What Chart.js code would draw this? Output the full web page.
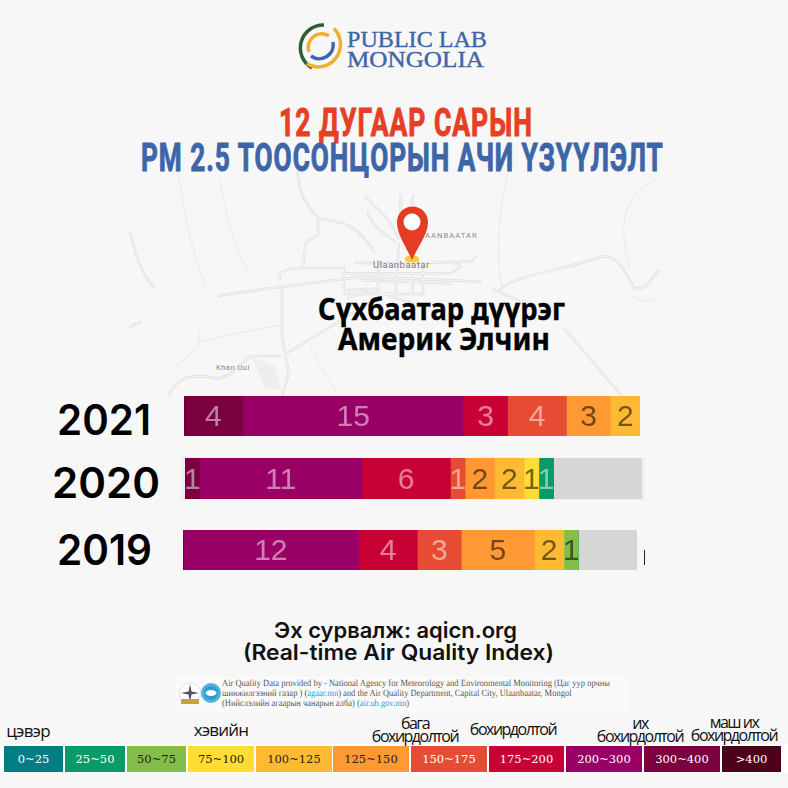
<!DOCTYPE html>
<html>
<head>
<meta charset="utf-8">
<script src="https://cdn.jsdelivr.net/npm/chart.js@4"></script>
<style>
  html, body { margin: 0; padding: 0; background: #f7f7f7; overflow: hidden; }
  #page { position: relative; width: 788px; height: 788px; overflow: hidden; background: #f7f7f7; }
  #page > svg { position: absolute; left: 0; top: 0; }
  canvas { position: absolute; }
  #frame2020 { position: absolute; left: 181px; top: 457px; width: 464px; height: 43px; background: #f0f0f0; }
  #credit { position: absolute; left: 175px; top: 677px; width: 452px; height: 36px; background: #fafafa; }
  #credit p { position: absolute; left: 47px; top: 2px; margin: 0; font: 9.5px/10px "Liberation Serif", serif; color: #555; white-space: nowrap; text-rendering: geometricPrecision; transform-origin: left top; }
  #credit a { color: #2f9bd0; }
  #strip { position: absolute; left: 0; top: 744px; width: 788px; height: 29px; background: #fff; }
  .cell { position: absolute; top: 2px; height: 26px; text-align: center; font: 11.5px/26px "DejaVu Serif", serif; }
  .word { position: absolute; width: 120px; font: 16px/13px "Open Sans", sans-serif; color: #111; text-align: center; letter-spacing: -1.5px; white-space: nowrap; }
  .word.wide { font-size: 17px; letter-spacing: -0.8px; }
  #tick { position: absolute; left: 644px; top: 550px; width: 1px; height: 15px; background: #222; }
</style>
</head>
<body>
<div id="page">
  <svg width="788" height="788" viewBox="0 0 788 788">
    <defs>
      <g id="roads">
        <path d="M28 178 C40 200 35 260 100 345"/>
        <path d="M28 460 Q40 445 62 442"/>
        <path d="M515 0 C520 60 530 90 575 140 C620 150 680 140 740 240"/>
        <path d="M575 140 L575 190 L540 210 L530 290"/>
        <path d="M285 365 L460 340 L700 310 L960 320 L1050 325"/>
        <path d="M470 340 L470 480 L490 590 L470 660"/>
        <path d="M465 320 Q450 290 520 285 L650 285"/>
        <path d="M650 280 L650 360 L880 360 L880 270"/>
        <path d="M650 300 L960 300 L990 280 L960 265"/>
        <path d="M700 320 L960 330"/>
        <path d="M750 260 L750 360 L800 360"/>
        <path d="M810 210 L800 360"/>
        <path d="M850 300 L850 360"/>
        <path d="M680 270 L880 270"/>
        <path d="M660 350 L720 345 L860 390"/>
        <path d="M660 375 L750 340"/>
        <path d="M880 270 L1020 265 L1035 250"/>
        <path d="M1080 345 L1160 380 L1195 385"/>
        <path d="M1100 350 C1150 300 1300 290 1400 250 C1450 250 1470 300 1490 340 C1530 360 1540 310 1568 290"/>
        <path d="M480 535 L750 370"/>
        <path d="M380 540 L470 540"/>
        <path d="M140 655 C170 600 200 590 280 605 C330 600 350 560 380 540"/>
        <path d="M1290 460 L1460 660"/>
        <path d="M710 75 C740 110 780 130 810 200"/>
        <path d="M720 120 C720 150 770 190 800 210"/>
        <path d="M815 70 L815 170"/>
        <path d="M855 70 Q845 85 850 100"/>
      </g>
    </defs>
    <!-- background map -->
    <g transform="translate(120 170) scale(0.3444)" fill="none" stroke-linejoin="round">
      <path d="M380 540 L450 570 L470 640 L420 630 Z" fill="#eeeeee"/>
      <g stroke-width="2.5" stroke="#e6e6e6">
        <path d="M165 0 C190 100 180 150 250 340"/>
        <path d="M290 30 C300 100 330 230 380 305"/>
        <path d="M1130 0 C1100 100 1090 250 1110 350"/>
        <path d="M1568 20 C1470 70 1440 130 1480 290"/>
        <path d="M230 470 C240 520 200 540 120 600"/>
        <path d="M230 500 C300 480 360 470 470 450"/>
        <path d="M550 500 C570 560 600 600 640 660"/>
        <path d="M1480 360 C1510 385 1540 385 1568 370"/>
      </g>
      <use href="#roads" stroke="#dcdcdc" stroke-width="7"/>
      <use href="#roads" stroke="#f7f7f7" stroke-width="3"/>
    </g>
    <text x="425" y="238" font-family="Roboto" font-size="7.5" letter-spacing="1.1" fill="#8a8a8a">AANBAATAR</text>
    <text x="373" y="268" font-family="Roboto" font-size="9.5" letter-spacing="0.5" fill="#777">Ulaanbaatar</text>
    <text x="216" y="370" font-family="Roboto" font-size="7.5" letter-spacing="0.5" fill="#888">Khan Uul</text>
    <!-- pin -->
    <ellipse cx="412" cy="259" rx="7.5" ry="3.5" fill="#fbc93d"/>
    <path d="M412 260 C404 243 397 234 397 222 A15.5 15.5 0 0 1 428 222 C428 234 420 243 412 260 Z" fill="#e43d24"/>
    <circle cx="412" cy="222" r="8.5" fill="#fff"/>
    <!-- logo -->
    <g fill="none" stroke-width="3.5">
      <path d="M312 68 A23 23 0 0 1 324 25" stroke="#2f5d3a"/>
      <path d="M326 25 A22.5 22.5 0 0 1 314 68" stroke="#f2ae2c" transform="rotate(22 321 47)"/>
      <path d="M309 52 A13.5 13.5 0 0 1 329 36" stroke="#f2ae2c"/>
      <path d="M333 42 A14 14 0 0 1 311 56" stroke="#3c66ad"/>
    </g>
    <g font-family="Liberation Serif" font-size="24" fill="#3d66a8" stroke="#3d66a8" stroke-width="0.4">
      <text class="fit" data-w="140" x="347" y="47">PUBLIC LAB</text>
      <text class="fit" data-w="137" x="347" y="67">MONGOLIA</text>
    </g>
    <!-- titles -->
    <g font-family="Roboto" font-weight="700" font-size="39.5" letter-spacing="1.5" stroke-width="1">
      <text class="fit" data-w="254" x="279" y="136" fill="#e63f26" stroke="#e63f26">12 ДУГААР САРЫН</text>
      <text class="fit" data-w="523" x="141" y="171" fill="#3d66a8" stroke="#3d66a8">РМ 2.5 ТООСОНЦОРЫН АЧИ ҮЗҮҮЛЭЛТ</text>
    </g>
    <g font-family="Noto Sans" font-weight="700" font-size="30" fill="#000" stroke="#000" stroke-width="0.4">
      <text class="fit" data-w="247" x="318" y="320">Сүхбаатар дүүрэг</text>
      <text class="fit" data-w="212" x="338" y="350">Америк Элчин</text>
    </g>
    <!-- years -->
    <g font-family="Inter" font-weight="600" font-size="42" fill="#000">
      <text class="fit" data-w="94" x="57" y="435">2021</text>
      <text class="fit" data-w="108" x="52" y="498">2020</text>
      <text class="fit" data-w="95" x="57" y="565">2019</text>
    </g>
    <!-- source -->
    <g font-family="Inter" font-weight="600" font-size="21.5" fill="#111">
      <text class="fit" data-w="243" x="274" y="638">Эх сурвалж: aqicn.org</text>
      <text class="fit" data-w="311" x="243" y="660">(Real-time Air Quality Index)</text>
    </g>
  </svg>

  <div id="frame2020"></div>
  <div id="tick"></div>

  <div id="credit">
    <svg width="46" height="24" viewBox="0 0 46 24" style="position:absolute;left:3px;top:5px">
      <ellipse cx="12" cy="11" rx="11" ry="10" fill="#fff" stroke="#ccd" stroke-width="0.6"/>
      <path d="M12 2 L13.5 9.5 L21 11 L13.5 12.5 L12 20 L10.5 12.5 L3 11 L10.5 9.5 Z" fill="#555"/>
      <rect x="3" y="17" width="18" height="5" fill="#c9a13a"/>
      <circle cx="33" cy="11" r="10" fill="#4fb4dc"/>
      <circle cx="33" cy="11" r="7" fill="#2f9bd0"/>
      <ellipse cx="33" cy="11" rx="5.5" ry="3" fill="#fff"/>
    </svg>
    <p id="creditText">Air Quality Data provided by - National Agency for Meteorology and Environmental Monitoring (Цаг уур орчны<br>шинжилгээний газар ) (<a>agaar.mn</a>) and the Air Quality Department, Capital City, Ulaanbaatar, Mongol<br>(Нийслэлийн агаарын чанарын алба) (<a>air.ub.gov.mn</a>)</p>
  </div>

  <div id="strip"></div>
</div>

<script>
// AQI bands, cleanest first
const aqiBands = ['0~25', '25~50', '50~75', '75~100', '100~125', '125~150', '150~175', '175~200', '200~300', '300~400', '>400'];
const years = ['2021', '2020', '2019'];

// days of December per band
const days2021 = [0, 0, 0, 0, 2, 3, 4, 3, 15, 4, 0];
const days2020 = [0, 1, 0, 1, 2, 2, 1, 6, 11, 1, 0];
const days2019 = [0, 0, 1, 0, 2, 5, 3, 4, 12, 0, 0];
const noData = [0, 6, 4];
const daysInMonth = 31;

const bandColors = ['#007e84', '#099b67', '#85bd4b', '#ffdd33', '#ffba33', '#ff9933', '#e64c33', '#c80033', '#990066', '#7a0040', '#4d0019'];
const bandOnDark = [true, true, false, false, false, false, true, true, true, true, true];
const noDataColor = '#d6d6d6';

const page = document.getElementById('page');
const strip = document.getElementById('strip');

// no condensed fonts here, so squeeze the heading texts to their widths
document.querySelectorAll('text.fit').forEach(t => {
  const x = Number(t.getAttribute('x'));
  const k = Number(t.dataset.w) / t.getComputedTextLength();
  t.setAttribute('transform', `translate(${x} 0) scale(${k} 1) translate(${-x} 0)`);
});

const creditText = document.getElementById('creditText');
creditText.style.transform = `scaleX(${388 / creditText.getBoundingClientRect().width})`;

// label each segment with its day count, like the original
const segmentLabels = {
  id: 'segmentLabels',
  afterDatasetsDraw(chart) {
    const { ctx } = chart;
    ctx.save();
    ctx.font = '30px "Liberation Sans"';
    ctx.textAlign = 'center';
    ctx.textBaseline = 'middle';
    chart.data.datasets.forEach((ds, i) => {
      const value = ds.data[0];
      if (!value || ds.label === 'no data') return;
      const bar = chart.getDatasetMeta(i).data[0];
      ctx.fillStyle = ds.onDark ? 'rgba(255,255,255,0.5)' : 'rgba(0,0,0,0.55)';
      ctx.fillText(value, bar.x - (bar.x - bar.base) / 2, bar.y + 2);
    });
    ctx.restore();
  }
};

function drawRow(year, days, missing, box) {
  const canvas = document.createElement('canvas');
  canvas.width = box.w;
  canvas.height = box.h;
  canvas.style.left = box.x + 'px';
  canvas.style.top = box.y + 'px';
  page.appendChild(canvas);

  // dirtiest band sits on the left of the bar
  const datasets = aqiBands.map((band, i) => ({
    label: band,
    data: [days[i]],
    backgroundColor: bandColors[i],
    onDark: bandOnDark[i]
  })).reverse();
  datasets.push({ label: 'no data', data: [missing], backgroundColor: noDataColor });

  new Chart(canvas, {
    type: 'bar',
    data: { labels: [year], datasets: datasets },
    options: {
      indexAxis: 'y',
      responsive: false,
      animation: false,
      devicePixelRatio: 1,
      barPercentage: 1,
      categoryPercentage: 1,
      layout: { padding: 0 },
      plugins: { legend: { display: false }, tooltip: { enabled: false } },
      scales: {
        x: { stacked: true, display: false, min: 0, max: daysInMonth },
        y: { stacked: true, display: false }
      }
    },
    plugins: [segmentLabels]
  });
}

drawRow(years[0], days2021, noData[0], { x: 184, y: 396, w: 456, h: 40 });
drawRow(years[1], days2020, noData[1], { x: 185, y: 458, w: 457, h: 41 });
drawRow(years[2], days2019, noData[2], { x: 183, y: 530, w: 454, h: 40 });

// colour key under the chart
const cellEdges = [[4, 63], [65, 125], [127, 186], [188, 254], [256, 332], [333, 409], [411, 487], [489, 564], [566, 642], [644, 720], [722, 781]];
aqiBands.forEach((band, i) => {
  const cell = document.createElement('div');
  cell.className = 'cell';
  cell.textContent = band;
  cell.style.left = cellEdges[i][0] + 'px';
  cell.style.width = (cellEdges[i][1] - cellEdges[i][0]) + 'px';
  cell.style.background = bandColors[i];
  cell.style.color = bandOnDark[i] ? '#fff' : '#222';
  strip.appendChild(cell);
});

// level names above the key
const levelNames = ['цэвэр', 'хэвийн', 'бага<br>бохирдолтой', 'бохирдолтой', 'их<br>бохирдолтой', 'маш их<br>бохирдолтой'];
const levelSpots = [[28, 724], [221, 723], [415, 717], [513, 723], [640, 717], [734, 716]];
levelNames.forEach((name, i) => {
  const word = document.createElement('div');
  word.className = i < 2 ? 'word wide' : 'word';
  word.innerHTML = name;
  word.style.left = (levelSpots[i][0] - 60) + 'px';
  word.style.top = levelSpots[i][1] + 'px';
  page.appendChild(word);
});
</script>
</body>
</html>
